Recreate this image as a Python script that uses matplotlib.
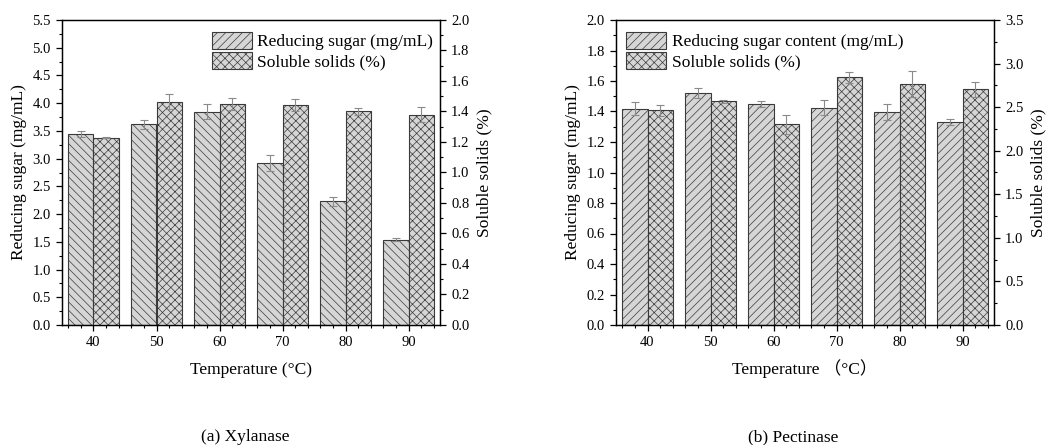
import numpy as np
import matplotlib.pyplot as plt
from matplotlib.patches import Patch

plt.rcParams['font.family'] = ['Liberation Serif', 'Noto Sans CJK SC']
plt.rcParams['font.size'] = 10.5
plt.rcParams['hatch.linewidth'] = 0.5
plt.rcParams['axes.linewidth'] = 0.9

# Data
temps = [40, 50, 60, 70, 80, 90]

# (a) Xylanase
xyl_sugar = [3.44, 3.62, 3.85, 2.92, 2.23, 1.54]
xyl_sugar_err = [0.05, 0.08, 0.14, 0.14, 0.08, 0.03]
xyl_solids = [1.228, 1.464, 1.449, 1.440, 1.401, 1.379]
xyl_solids_err = [0.005, 0.048, 0.037, 0.040, 0.025, 0.048]

# (b) Pectinase
pec_sugar = [1.419, 1.521, 1.449, 1.425, 1.394, 1.331]
pec_sugar_err = [0.042, 0.033, 0.022, 0.050, 0.052, 0.017]
pec_solids = [2.464, 2.567, 2.303, 2.842, 2.770, 2.705]
pec_solids_err = [0.065, 0.020, 0.110, 0.060, 0.150, 0.084]

FILL = '#d6d6d6'
EDGE = '#3a3a3a'
ERR = '#8a8a8a'
W = 4.0


def style_axis(ax, side):
    ax.tick_params(axis='both', direction='out', labelsize=10.5, width=0.9)
    ax.tick_params(which='major', length=4.5)
    ax.tick_params(which='minor', length=2.5, width=0.8)
    ax.minorticks_on()
    if side == 'left':
        ax.tick_params(axis='y', which='both', right=False)


def draw_panel(rect, sugar, sugar_err, solids, solids_err, sugar_hatch,
               ylim1, yticks1, ylim2, yticks2, xlabel, xpad):
    ax = fig.add_axes(rect)
    ax2 = ax.twinx()
    x = np.array(temps, dtype=float)

    ax.bar(x - W / 2, sugar, W, color=FILL, edgecolor=EDGE, linewidth=0.8,
           hatch=sugar_hatch, zorder=2)
    ax.errorbar(x - W / 2, sugar, yerr=sugar_err, fmt='none', ecolor=ERR,
                elinewidth=0.8, capsize=3, capthick=0.8, zorder=3)
    ax2.bar(x + W / 2, solids, W, color=FILL, edgecolor=EDGE, linewidth=0.8,
            hatch='xxxx', zorder=2)
    ax2.errorbar(x + W / 2, solids, yerr=solids_err, fmt='none', ecolor=ERR,
                 elinewidth=0.8, capsize=3, capthick=0.8, zorder=3)

    ax.set_xlim(35, 95)
    ax.set_xticks(temps)
    ax.set_xticks(np.arange(35, 96, 5), minor=True)
    ax.set_ylim(*ylim1)
    ax.set_yticks(yticks1)
    ax.set_yticklabels([f'{v:.1f}' for v in yticks1])
    ax2.set_ylim(*ylim2)
    ax2.set_yticks(yticks2)
    ax2.set_yticklabels([f'{v:.1f}' for v in yticks2])

    style_axis(ax, 'left')
    style_axis(ax2, 'right')
    ax.tick_params(axis='x', which='minor', length=2.5)
    ax.yaxis.set_minor_locator(plt.MultipleLocator((yticks1[1] - yticks1[0]) / 2))
    ax2.yaxis.set_minor_locator(plt.MultipleLocator((yticks2[1] - yticks2[0]) / 2))

    ax.set_ylabel('Reducing sugar (mg/mL)', fontsize=12.5, labelpad=4)
    ax2.set_ylabel('Soluble solids (%)', fontsize=12.5, labelpad=5)
    ax.set_xlabel(xlabel, fontsize=12.5, labelpad=xpad)

    handles = [Patch(facecolor=FILL, edgecolor=EDGE, linewidth=0.8, hatch='////'),
               Patch(facecolor=FILL, edgecolor=EDGE, linewidth=0.8, hatch='xxxx')]
    return ax, ax2, handles


fig = plt.figure(figsize=(10.46, 4.45), dpi=100)

axA, axA2, hA = draw_panel([62 / 1046, 1 - 325 / 445, 378 / 1046, 305 / 445],
                           xyl_sugar, xyl_sugar_err, xyl_solids, xyl_solids_err,
                           '\\\\\\\\', (0, 5.5), np.arange(0, 5.51, 0.5),
                           (0, 2.0), np.arange(0, 2.01, 0.2),
                           'Temperature (°C)', 9)
axA2.legend(hA, ['Reducing sugar (mg/mL)', 'Soluble solids (%)'],
            loc='upper left', bbox_to_anchor=(0.37, 0.995), frameon=False,
            fontsize=12.5, handlelength=2.3, handleheight=1.15,
            labelspacing=0.1, handletextpad=0.3, borderaxespad=0.2)

axB, axB2, hB = draw_panel([616 / 1046, 1 - 325 / 445, 378 / 1046, 305 / 445],
                           pec_sugar, pec_sugar_err, pec_solids, pec_solids_err,
                           '////', (0, 2.0), np.arange(0, 2.01, 0.2),
                           (0, 3.5), np.arange(0, 3.51, 0.5),
                           'Temperature （°C）', 7)
axB2.legend(hB, ['Reducing sugar content (mg/mL)', 'Soluble solids (%)'],
            loc='upper left', bbox_to_anchor=(0.0, 0.995), frameon=False,
            fontsize=12.5, handlelength=2.3, handleheight=1.15,
            labelspacing=0.1, handletextpad=0.3, borderaxespad=0.2)

fig.text(245 / 1046, 1 - 437 / 445, '(a) Xylanase', ha='center', va='center', fontsize=12.5)
fig.text(793 / 1046, 1 - 437 / 445, '(b) Pectinase', ha='center', va='center', fontsize=12.5)

fig.savefig('out.png', dpi=100, facecolor='white')
